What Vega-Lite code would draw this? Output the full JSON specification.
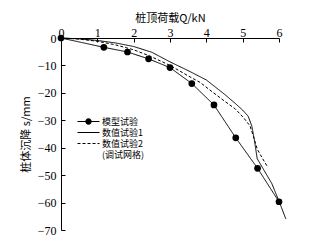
{
  "$schema": "https://vega.github.io/schema/vega-lite/v6.json",
  "width": 218,
  "height": 192,
  "autosize": {"type": "none"},
  "padding": {"left": 61, "top": 38, "right": 57, "bottom": 12},
  "background": "white",
  "config": {
    "view": {"stroke": null},
    "axis": {"grid": false, "domainColor": "black", "tickColor": "black", "labelColor": "black", "titleColor": "black", "labelFont": "Liberation Serif", "labelFontSize": 12, "titleFont": "Noto Sans CJK SC", "titleFontSize": 11, "titleFontWeight": "normal", "domainWidth": 1, "tickWidth": 1},
    "legend": {"labelFont": "Noto Sans CJK SC", "labelFontSize": 9, "labelColor": "black", "padding": 0}
  },
  "datasets": {
    "curves": [
      {"series": "模型试验", "Q": 0, "s": 0},
      {"series": "模型试验", "Q": 1.18, "s": -3.4},
      {"series": "模型试验", "Q": 1.83, "s": -5.1},
      {"series": "模型试验", "Q": 2.41, "s": -7.6},
      {"series": "模型试验", "Q": 3.0, "s": -10.8},
      {"series": "模型试验", "Q": 3.6, "s": -16.6},
      {"series": "模型试验", "Q": 4.21, "s": -24.4},
      {"series": "模型试验", "Q": 4.81, "s": -36.4},
      {"series": "模型试验", "Q": 5.41, "s": -47.5},
      {"series": "模型试验", "Q": 6.0, "s": -59.7},
      {"series": "数值试验1", "Q": 0, "s": 0},
      {"series": "数值试验1", "Q": 0.5, "s": -0.3},
      {"series": "数值试验1", "Q": 1.0, "s": -0.9},
      {"series": "数值试验1", "Q": 1.5, "s": -1.8},
      {"series": "数值试验1", "Q": 2.0, "s": -3.1},
      {"series": "数值试验1", "Q": 2.5, "s": -5.2},
      {"series": "数值试验1", "Q": 3.0, "s": -8.7},
      {"series": "数值试验1", "Q": 3.5, "s": -11.9},
      {"series": "数值试验1", "Q": 4.0, "s": -15.3},
      {"series": "数值试验1", "Q": 4.5, "s": -20.5},
      {"series": "数值试验1", "Q": 4.8, "s": -23.9},
      {"series": "数值试验1", "Q": 5.0, "s": -26.3},
      {"series": "数值试验1", "Q": 5.15, "s": -28.5},
      {"series": "数值试验1", "Q": 5.25, "s": -32.0},
      {"series": "数值试验1", "Q": 5.32, "s": -37.0},
      {"series": "数值试验1", "Q": 5.4, "s": -44.0},
      {"series": "数值试验1", "Q": 5.6, "s": -48.5},
      {"series": "数值试验1", "Q": 5.8, "s": -53.0},
      {"series": "数值试验1", "Q": 6.0, "s": -59.5},
      {"series": "数值试验1", "Q": 6.19, "s": -66.0},
      {"series": "数值试验2", "Q": 0, "s": 0},
      {"series": "数值试验2", "Q": 0.5, "s": -0.4},
      {"series": "数值试验2", "Q": 1.0, "s": -1.2},
      {"series": "数值试验2", "Q": 1.5, "s": -2.5},
      {"series": "数值试验2", "Q": 2.0, "s": -4.3},
      {"series": "数值试验2", "Q": 2.45, "s": -6.6},
      {"series": "数值试验2", "Q": 3.0, "s": -10.0},
      {"series": "数值试验2", "Q": 3.5, "s": -13.8},
      {"series": "数值试验2", "Q": 3.83, "s": -16.2},
      {"series": "数值试验2", "Q": 4.1, "s": -19.0},
      {"series": "数值试验2", "Q": 4.5, "s": -23.0},
      {"series": "数值试验2", "Q": 4.8, "s": -25.9},
      {"series": "数值试验2", "Q": 5.02, "s": -29.0},
      {"series": "数值试验2", "Q": 5.2, "s": -32.0},
      {"series": "数值试验2", "Q": 5.3, "s": -36.0},
      {"series": "数值试验2", "Q": 5.4, "s": -40.5},
      {"series": "数值试验2", "Q": 5.55, "s": -44.0},
      {"series": "数值试验2", "Q": 5.68, "s": -46.9}
    ]
  },
  "data": {"name": "curves"},
  "encoding": {
    "x": {"field": "Q", "type": "quantitative", "scale": {"domain": [0, 6], "nice": false, "zero": false},
      "axis": {"orient": "top", "values": [0, 1, 2, 3, 4, 5, 6], "title": "桩顶荷载Q/kN", "tickSize": -4, "labelPadding": 3, "titlePadding": 3, "labelFlush": false}},
    "y": {"field": "s", "type": "quantitative", "scale": {"domain": [-70, 0], "nice": false},
      "axis": {"values": [0, -10, -20, -30, -40, -50, -60, -70], "title": "桩体沉降 s/mm", "tickSize": -4, "labelPadding": 9, "titlePadding": 6, "labelFlush": false}}
  },
  "layer": [
    {
      "mark": {"type": "line", "color": "black", "strokeWidth": 1},
      "encoding": {
        "strokeDash": {"field": "series", "type": "nominal",
          "scale": {"domain": ["模型试验", "数值试验1", "数值试验2"], "range": [[1, 0], [1, 0], [3, 2]]},
          "legend": {"title": null, "orient": "none", "legendX": 23, "legendY": 79, "symbolSize": 64, "rowPadding": 1, "labelOffset": 9, "symbolFillColor": "black", "symbolStrokeWidth": 0, "symbolOpacity": 1,
            "labelExpr": "datum.label === '数值试验2' ? ['数值试验2', '(调试网格)'] : datum.label"}}
      }
    },
    {
      "transform": [{"filter": "datum.series === '模型试验'"}],
      "mark": {"type": "circle", "color": "black", "opacity": 1, "size": 45}
    },
    {
      "mark": {"type": "point", "filled": true, "color": "black", "opacity": 0},
      "encoding": {
        "shape": {"field": "series", "type": "nominal",
          "scale": {"domain": ["模型试验", "数值试验1", "数值试验2"],
            "range": [
              "M-2.75,-0.125H2.75V0.125H-2.75ZM0.8,0A0.8,0.8,0,1,1,-0.8,0A0.8,0.8,0,1,1,0.8,0Z",
              "M-2.75,-0.125H2.75V0.125H-2.75Z",
              "M-2.75,-0.125H-2V0.125H-2.75ZM-1.5,-0.125H-0.75V0.125H-1.5ZM-0.25,-0.125H0.5V0.125H-0.25ZM1,-0.125H1.75V0.125H1ZM2.25,-0.125H2.75V0.125H2.25Z"
            ]},
          "legend": {"title": null, "orient": "none", "legendX": 23, "legendY": 79, "symbolSize": 64, "rowPadding": 1, "labelOffset": 9, "symbolFillColor": "black", "symbolStrokeWidth": 0, "symbolOpacity": 1,
            "labelExpr": "datum.label === '数值试验2' ? ['数值试验2', '(调试网格)'] : datum.label"}}
      }
    }
  ]
}
